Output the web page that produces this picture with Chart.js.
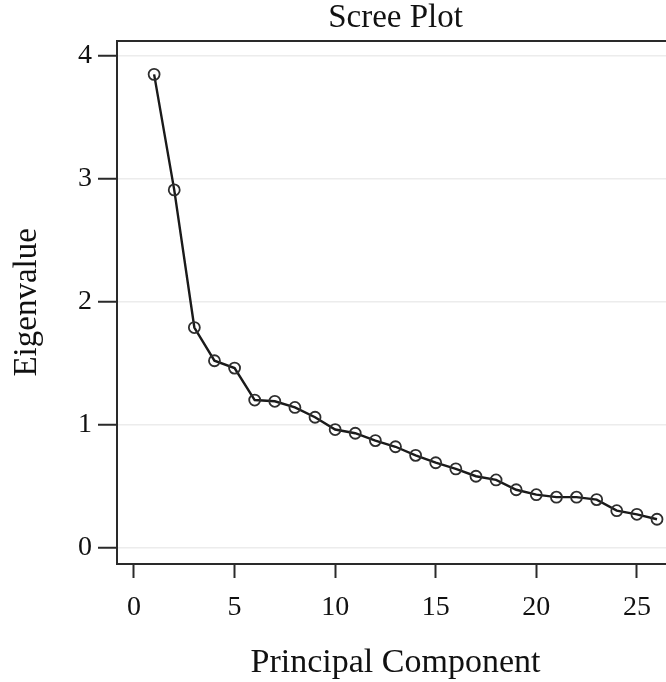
<!DOCTYPE html>
<html>
<head>
<meta charset="utf-8">
<script src="https://cdn.jsdelivr.net/npm/chart.js@4"></script>
<style>
  html, body { margin: 0; padding: 0; background: #fff; overflow: hidden; }
  #wrap { width: 700px; height: 682px; position: relative; }
</style>
</head>
<body>
<div id="wrap"><canvas id="c"></canvas></div>
<script>
// Data
const components = [1,2,3,4,5,6,7,8,9,10,11,12,13,14,15,16,17,18,19,20,21,22,23,24,25,26];
const eigenvalues = [3.85,2.91,1.79,1.52,1.46,1.20,1.19,1.14,1.06,0.96,0.93,0.87,0.82,0.75,0.69,0.64,0.58,0.55,0.47,0.43,0.41,0.41,0.39,0.30,0.27,0.23];
const xTicks = [0,5,10,15,20,25];
const yTicks = [0,1,2,3,4];
const titleText = 'Scree Plot';
const xTitle = 'Principal Component';
const yTitle = 'Eigenvalue';

const serif = "'Liberation Serif', 'Times New Roman', serif";
const dark = '#1a1a1a';
const axisColor = '#2a2a2a';

const points = components.map((c, i) => ({ x: c, y: eigenvalues[i] }));

new Chart(document.getElementById('c'), {
  type: 'scatter',
  data: {
    datasets: [{
      data: points,
      showLine: true,
      borderColor: dark,
      borderWidth: 2.4,
      pointRadius: 5.5,
      pointBorderWidth: 1.8,
      pointBorderColor: '#2e2e2e',
      pointBackgroundColor: 'rgba(0,0,0,0)',
      pointStyle: 'circle',
      tension: 0
    }]
  },
  options: {
    responsive: true,
    maintainAspectRatio: false,
    animation: false,
    devicePixelRatio: 1,
    layout: { padding: { left: 0, right: 26, top: 0, bottom: 0 } },
    plugins: {
      legend: { display: false },
      tooltip: { enabled: false },
      title: {
        display: true,
        text: titleText,
        fullSize: false,
        color: '#111',
        font: { family: serif, size: 33, weight: 'normal', lineHeight: 1 },
        padding: { top: 1.5, bottom: 6.2 }
      }
    },
    scales: {
      x: {
        type: 'linear',
        position: 'bottom',
        min: -0.845,
        max: 26.845,
        afterBuildTicks: (s) => { s.ticks = xTicks.map(v => ({ value: v })); },
        afterFit: (s) => { s.height = 118; },
        grid: {
          drawOnChartArea: false,
          drawTicks: true,
          tickLength: 14,
          tickColor: axisColor,
          tickWidth: 2
        },
        border: { display: true, color: axisColor, width: 2 },
        ticks: {
          color: '#111',
          font: { family: serif, size: 28, lineHeight: 1.2 },
          padding: 13,
          maxRotation: 0,
          autoSkip: false,
          callback: (v) => String(v)
        },
        title: {
          display: true,
          text: xTitle,
          color: '#111',
          font: { family: serif, size: 34, lineHeight: 1 },
          padding: { top: 0, bottom: 2 }
        }
      },
      x2: {
        type: 'linear',
        position: 'top',
        min: -0.845,
        max: 26.845,
        afterFit: (s) => { s.height = 0; },
        grid: { drawOnChartArea: false, drawTicks: false },
        border: { display: true, color: axisColor, width: 2 },
        ticks: { display: false }
      },
      y: {
        type: 'linear',
        position: 'left',
        min: -0.134,
        max: 4.124,
        afterBuildTicks: (s) => { s.ticks = yTicks.map(v => ({ value: v })); },
        afterFit: (s) => { s.width = 117; },
        grid: {
          drawOnChartArea: true,
          color: '#ececec',
          lineWidth: 1.5,
          drawTicks: true,
          tickLength: 19,
          tickColor: axisColor,
          tickWidth: 2
        },
        border: { display: true, color: axisColor, width: 2 },
        ticks: {
          color: '#111',
          font: { family: serif, size: 28, lineHeight: 1.2 },
          padding: 6,
          autoSkip: false,
          callback: (v) => String(v)
        },
        title: {
          display: true,
          text: yTitle,
          color: '#111',
          font: { family: serif, size: 33, lineHeight: 1 },
          padding: { top: 11, bottom: 0 }
        }
      }
    }
  }
});
</script>
</body>
</html>
